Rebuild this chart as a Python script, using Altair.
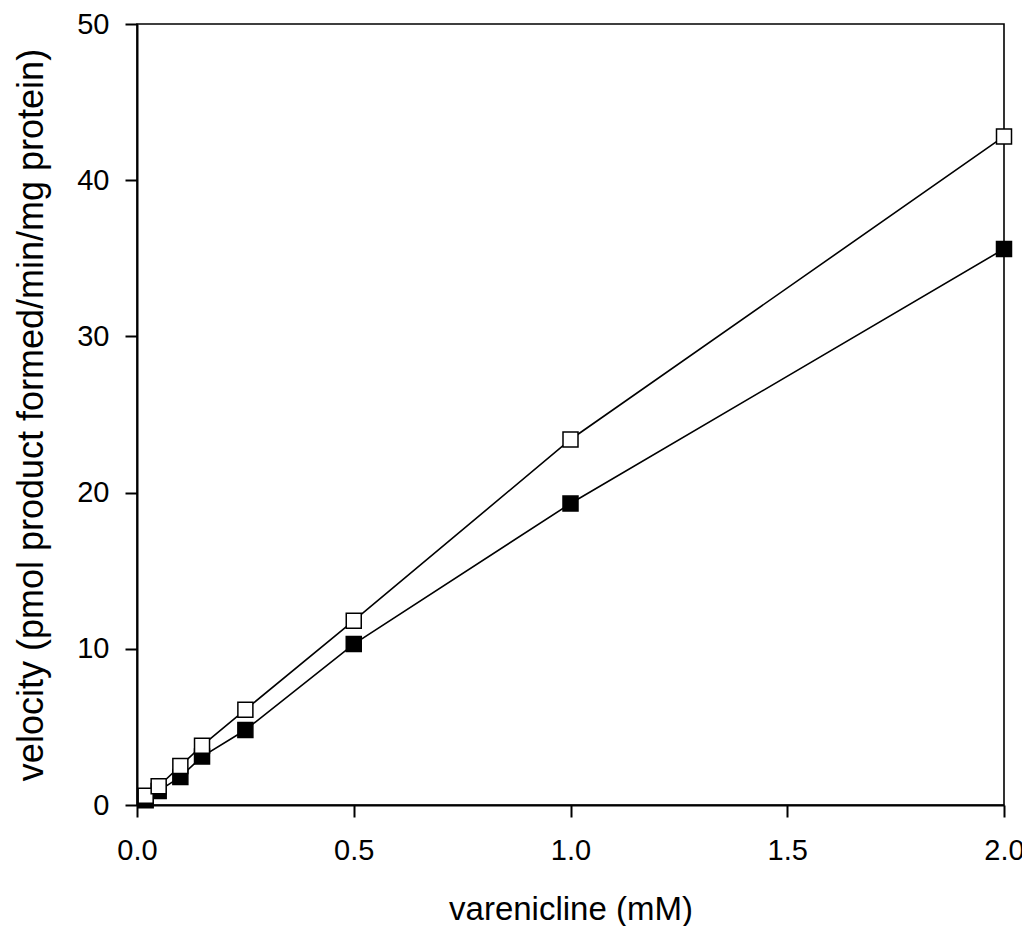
import altair as alt
import pandas as pd

conc = [0.02, 0.05, 0.1, 0.15, 0.25, 0.5, 1.0, 2.0]
open_vals = [0.6, 1.2, 2.5, 3.8, 6.1, 11.8, 23.4, 42.8]
filled_vals = [0.3, 0.9, 1.8, 3.1, 4.8, 10.3, 19.3, 35.6]
x_ticks = [0.0, 0.5, 1.0, 1.5, 2.0]
y_ticks = [0, 10, 20, 30, 40, 50]

rows = []
for c, v in zip(conc, filled_vals):
    rows.append({"conc": c, "v": v, "series": "filled"})
for c, v in zip(conc, open_vals):
    rows.append({"conc": c, "v": v, "series": "open"})
df = pd.DataFrame(rows)

FONT = "Liberation Sans"
LBL = 29

common_axis = dict(grid=False, tickSize=12, labelFontSize=LBL,
                   labelFont=FONT, titleFont=FONT, titleFontWeight="normal",
                   labelColor="black", titleColor="black", domainColor="black",
                   tickColor="black", domainWidth=2, tickWidth=2, labelFlush=False)

x = alt.X("conc:Q", scale=alt.Scale(domain=[0, 2], nice=False, zero=True),
          axis=alt.Axis(values=x_ticks, format=".1f", title="varenicline (mM)",
                        labelPadding=19, titlePadding=28, titleFontSize=33, **common_axis))
y = alt.Y("v:Q", scale=alt.Scale(domain=[0, 50], nice=False),
          axis=alt.Axis(values=y_ticks, title="velocity (pmol product formed/min/mg protein)",
                        labelPadding=16, titlePadding=26, titleFontSize=36, **common_axis))

lines = alt.Chart(df).mark_line(color="black", strokeWidth=1.6).encode(
    x=x, y=y, detail="series:N", order="conc:Q")

pts_filled = alt.Chart(df[df.series == "filled"]).mark_square(
    size=225, filled=True, color="black", stroke="black", strokeWidth=1.5, opacity=1
).encode(x=x, y=y)
pts_open = alt.Chart(df[df.series == "open"]).mark_square(
    size=225, filled=True, fill="white", stroke="black", strokeWidth=1.5, opacity=1
).encode(x=x, y=y)

chart = alt.layer(lines, pts_filled, pts_open).properties(
    width=867, height=781,
    background="white",
    autosize=alt.AutoSizeParams(type="none"),
    padding={"left": 129, "top": 16, "right": 18, "bottom": 121},
).configure_view(stroke="black", strokeWidth=1.6)

chart.save("out.html", embed_options={"renderer": "svg", "actions": False})
